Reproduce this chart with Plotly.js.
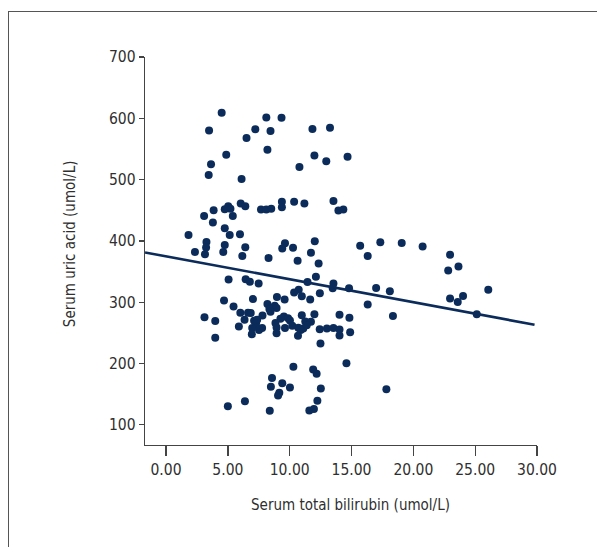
<!DOCTYPE html>
<html>
<head>
<meta charset="utf-8">
<script src="https://cdn.plot.ly/plotly-3.0.1.min.js"></script>
<style>
  html, body { margin: 0; padding: 0; background: #fff; }
  #chart { position: absolute; left: 0; top: 0; width: 597px; height: 547px; }
  #frame { position: absolute; left: 8px; top: 11px; width: 620px; height: 560px; border: 1px solid #555; pointer-events: none; }
</style>
</head>
<body>
<div id="chart"></div>
<div id="frame"></div>
<script>
// Serum total bilirubin (umol/L)
const bilirubin = [
  4.50, 8.11, 9.34, 3.48, 7.22, 8.45, 11.84, 13.26, 6.51, 8.20,
  4.87, 12.00, 14.68, 3.64, 12.96, 3.45, 10.79, 6.11, 9.37, 9.37,
  10.36, 11.19, 13.54, 6.04, 6.41, 5.03, 5.21, 4.75, 3.85, 7.68,
  8.11, 8.51, 13.94, 14.34, 3.08, 5.40, 3.79, 4.75, 1.82, 5.15,
  5.98, 3.27, 12.03, 9.62, 17.33, 19.06, 15.70, 20.75, 3.24, 4.75,
  6.41, 10.27, 9.40, 2.34, 3.15, 4.63, 11.72, 22.97, 6.17, 16.31,
  8.29, 10.64, 12.34, 23.65, 22.82, 12.12, 5.06, 6.44, 6.78, 7.49,
  11.44, 13.54, 13.48, 14.80, 16.99, 18.10, 26.06, 10.73, 10.36, 12.44,
  10.98, 24.02, 8.97, 22.97, 7.03, 9.59, 11.66, 4.69, 23.59, 8.20,
  16.31, 8.79, 5.46, 8.94, 8.36, 8.45, 6.01, 6.63, 6.85, 12.00,
  25.13, 14.03, 10.98, 18.35, 7.80, 9.53, 3.11, 14.83, 9.25, 9.87,
  6.35, 7.37, 3.98, 7.12, 10.02, 11.26, 11.72, 8.85, 7.28, 11.38,
  5.89, 10.21, 6.97, 7.77, 8.94, 9.62, 10.70, 11.10, 12.43, 13.01,
  13.54, 14.03, 7.52, 10.89, 8.94, 14.89, 6.94, 10.67, 14.03, 3.98,
  12.49, 14.59, 10.30, 11.90, 12.18, 8.57, 9.40, 8.48, 10.02, 12.52,
  17.82, 9.16, 9.06, 6.38, 12.24, 5.00, 8.39, 11.59, 11.96
];
// Serum uric acid (umol/L)
const uricAcid = [
  608.9, 601.5, 601.0, 579.9, 582.2, 579.3, 582.7, 584.4, 567.9, 548.6,
  540.6, 539.5, 537.2, 525.2, 529.8, 507.6, 520.7, 500.8, 463.8, 454.7,
  463.8, 460.9, 464.9, 460.9, 456.4, 456.4, 452.4, 451.8, 450.1, 451.2,
  451.2, 452.4, 449.5, 451.2, 440.4, 440.4, 430.2, 420.5, 409.7, 409.7,
  410.8, 398.3, 399.4, 396.0, 397.7, 396.6, 392.0, 390.9, 389.2, 393.2,
  389.8, 388.6, 387.5, 381.8, 378.4, 381.8, 380.7, 377.2, 375.5, 375.5,
  372.1, 367.6, 363.0, 358.4, 351.6, 341.4, 336.8, 337.4, 333.4, 330.6,
  332.8, 330.6, 322.6, 322.6, 323.2, 318.0, 320.3, 320.3, 315.8, 314.6,
  309.5, 310.0, 308.4, 306.1, 305.0, 304.4, 304.4, 302.7, 300.4, 297.0,
  296.4, 294.1, 293.0, 290.7, 289.0, 284.4, 282.7, 282.7, 282.2, 280.5,
  280.5, 279.3, 278.8, 277.6, 278.2, 276.5, 275.4, 274.8, 273.1, 273.6,
  271.4, 271.4, 269.1, 269.7, 270.2, 268.5, 267.9, 266.2, 265.1, 262.3,
  260.5, 261.7, 257.7, 257.7, 258.8, 257.7, 258.3, 257.1, 256.0, 257.1,
  257.7, 255.4, 254.8, 254.8, 249.2, 250.9, 247.5, 245.2, 245.8, 241.8,
  232.6, 200.2, 194.5, 190.0, 183.1, 176.3, 167.8, 162.1, 161.0, 159.2,
  158.1, 152.4, 147.8, 138.2, 139.3, 130.2, 122.8, 123.3, 125.6
];
// Fitted regression line
const fitIntercept = 374.8;
const fitSlope = -3.745;
const fitXRange = [-1.7, 29.8];

const xTickVals = [0, 5, 10, 15, 20, 25, 30];
const yTickVals = [100, 200, 300, 400, 500, 600, 700];
const xTitle = 'Serum total bilirubin (umol/L)';
const yTitle = 'Serum uric acid (umol/L)';

const navy = '#0b2c5b';
const textColor = '#2f2f2f';
const font = '"DejaVu Sans Condensed", "Liberation Sans Narrow", sans-serif';

const fitY = fitXRange.map(x => fitIntercept + fitSlope * x);

const traces = [
  {
    x: bilirubin, y: uricAcid, type: 'scatter', mode: 'markers',
    marker: { color: navy, size: 8, line: { width: 0 } },
    hoverinfo: 'x+y', cliponaxis: false
  },
  {
    x: fitXRange, y: fitY, type: 'scatter', mode: 'lines',
    line: { color: navy, width: 2.6 }, hoverinfo: 'skip', cliponaxis: false
  }
];

const layout = {
  width: 597, height: 547,
  margin: { l: 145, r: 60, t: 57, b: 102, pad: 0 },
  paper_bgcolor: '#fff', plot_bgcolor: '#fff',
  showlegend: false,
  font: { family: font, size: 15, color: textColor },
  xaxis: {
    range: [-1.7, 30], tickvals: xTickVals, tickformat: '.2f',
    showgrid: false, zeroline: false, showline: true, linecolor: '#444', linewidth: 1.3,
    ticks: 'outside', ticklen: 10, tickwidth: 1.3, tickcolor: '#444',
    tickfont: { family: font, size: 15.5, color: textColor }
  },
  yaxis: {
    range: [67, 700], tickvals: yTickVals,
    showgrid: false, zeroline: false, showline: true, linecolor: '#444', linewidth: 1.3,
    ticks: 'outside', ticklen: 5, tickwidth: 1.3, tickcolor: '#444',
    tickfont: { family: font, size: 15.5, color: textColor }
  },
  annotations: [
    {
      text: xTitle, xref: 'paper', yref: 'paper', x: 0.5255, y: -0.1546,
      xanchor: 'center', yanchor: 'middle', showarrow: false,
      font: { family: font, size: 15, color: textColor }
    },
    {
      text: yTitle, xref: 'paper', yref: 'paper', x: -0.191, y: 0.518,
      xanchor: 'center', yanchor: 'middle', showarrow: false, textangle: -90,
      font: { family: font, size: 15, color: textColor }
    }
  ]
};

Plotly.newPlot('chart', traces, layout, { staticPlot: true, displayModeBar: false });
</script>
</body>
</html>
